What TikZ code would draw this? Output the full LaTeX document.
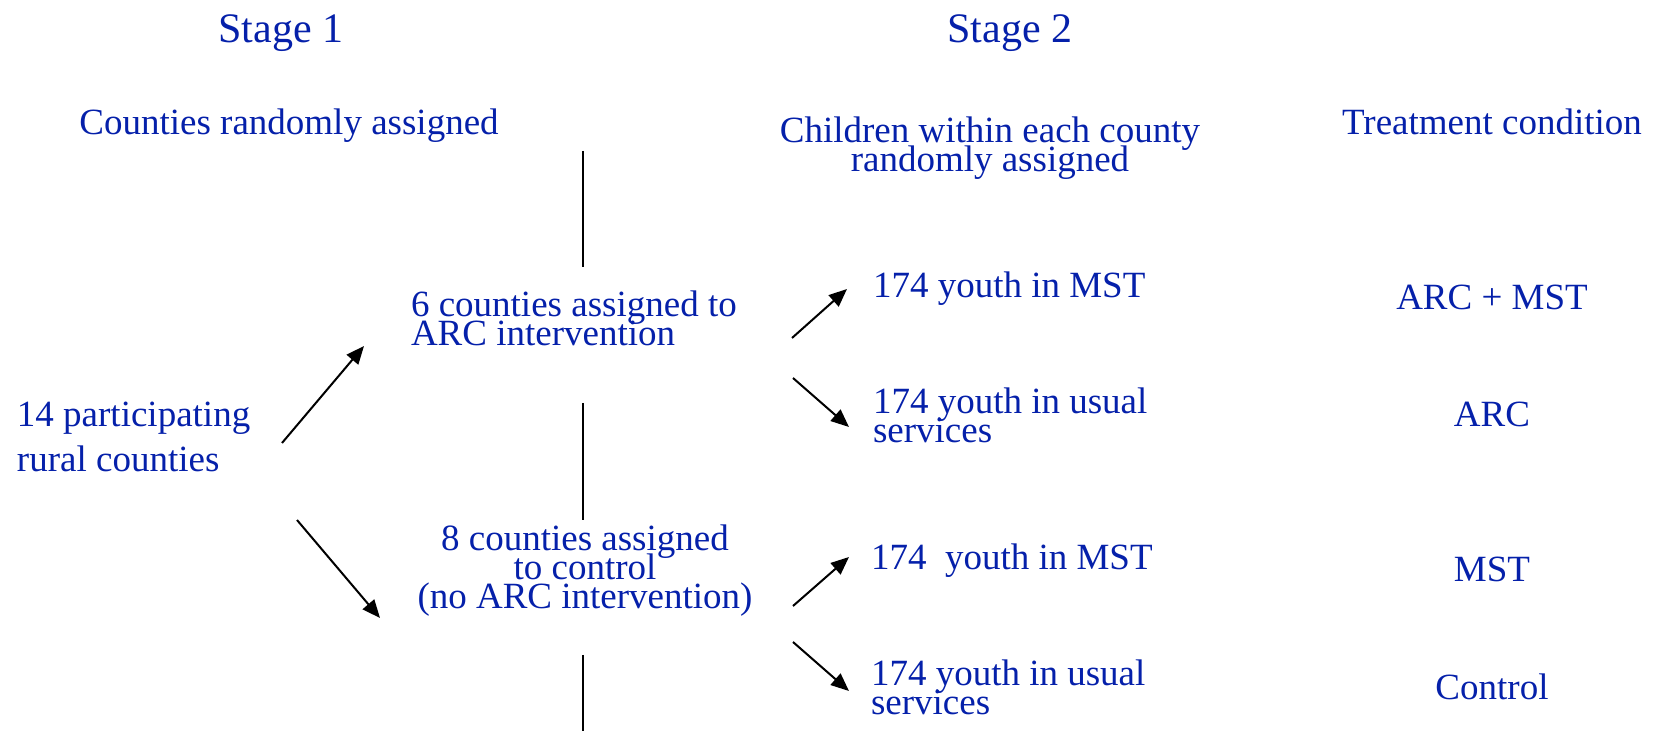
\documentclass[tikz,border=0pt]{standalone}
\usepackage{fontspec}
\setmainfont{Liberation Serif}
\usetikzlibrary{arrows.meta}
\definecolor{slideblue}{RGB}{5,32,170}
\AtBeginDocument{\lineskiplimit=-100pt\relax}

\begin{document}
\begin{tikzpicture}[x=0.5pt,y=-0.5pt,->,>={Triangle[length=9pt,width=7.5pt]},line width=1pt]
\tikzstyle{lbl}=[text=slideblue,inner sep=0pt,font=\fontsize{18.5}{14.5}\selectfont]
\tikzstyle{stage}=[lbl,anchor=base,font=\fontsize{21}{24}\selectfont]
\useasboundingbox (0,0) rectangle (1655,731);
% headings
\node[stage] (s1) at (281,43) {Stage 1};
\node[stage] (s2) at (1010,43) {Stage 2};
\node[lbl,anchor=base] (h1) at (289,135) {Counties randomly assigned};
\node[lbl,anchor=base,align=center] (h2) at (990,172) {Children within each county\\randomly assigned};
\node[lbl,anchor=base] (h3) at (1492,135) {Treatment condition};
% stage 1
\node[lbl,anchor=base west,align=left,font=\fontsize{18.5}{22.5}\selectfont] (1) at (16,472) {14 participating\\rural counties};
\node[lbl,anchor=base west,align=left] (2) at (410,346) {6 counties assigned to\\ARC intervention};
\node[lbl,anchor=base,align=center] (3) at (585,609) {8 counties assigned\\to control\\(no ARC intervention)};
% stage 2
\node[lbl,anchor=base west] (4) at (872,298) {174 youth in MST};
\node[lbl,anchor=base west,align=left] (5) at (872,443) {174 youth in usual\\services};
\node[lbl,anchor=base west] (6) at (870,570) {174\ \ youth in MST};
\node[lbl,anchor=base west,align=left] (7) at (870,715) {174 youth in usual\\services};
% treatment condition
\node[lbl,anchor=base] (t1) at (1492,310) {ARC + MST};
\node[lbl,anchor=base] (t2) at (1492,427) {ARC};
\node[lbl,anchor=base] (t3) at (1492,582) {MST};
\node[lbl,anchor=base] (t4) at (1492,700) {Control};
% dividers
\draw[-] (583,151) -- (583,267);
\draw[-] (583,403) -- (583,520);
\draw[-] (583,655) -- (583,731);
\path ([shift={(266,-29)}]1.base west) edge ([shift={(-46,0)}]2.base west)
      ([shift={(281,48)}]1.base west) edge ([shift={(-205,9)}]3.base)
      ([shift={(382,-8)}]2.base west) edge ([shift={(-25,-9)}]4.base west)
      ([shift={(383,32)}]2.base west) edge ([shift={(-23,-16)}]5.base west)
      ([shift={(208,-3)}]3.base) edge ([shift={(-21,-13)}]6.base west)
      ([shift={(208,33)}]3.base) edge ([shift={(-21,-24)}]7.base west);
\end{tikzpicture}
\end{document}
